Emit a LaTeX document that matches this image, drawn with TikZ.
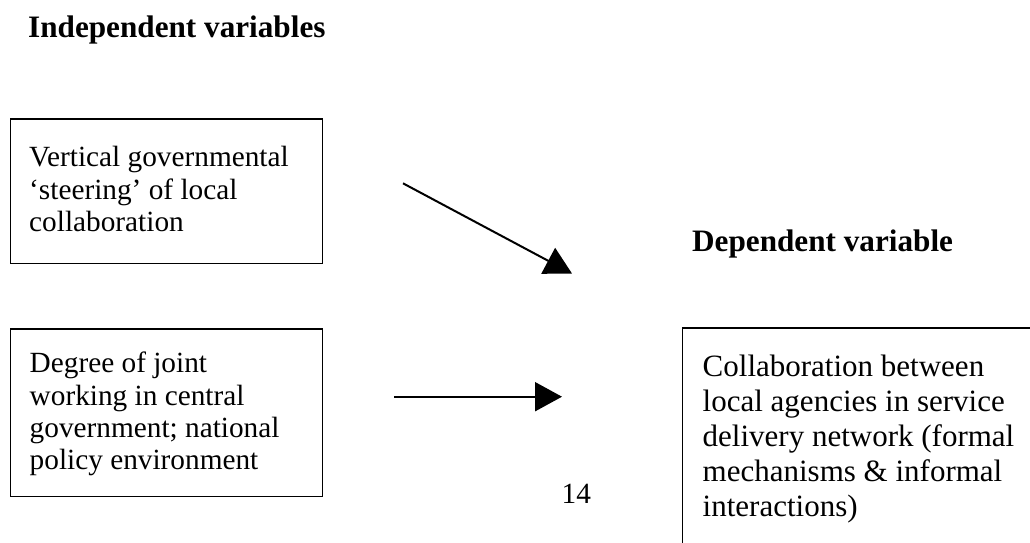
\documentclass[tikz,border=0pt]{standalone}
\usepackage{fontspec}
\setmainfont{Liberation Serif}
\usetikzlibrary{arrows.meta}
\begin{document}
\begin{tikzpicture}[x=1pt,y=-1pt,
  frame/.style={draw, line width=1.4pt, inner sep=0pt, anchor=north west},
  % multi-line texts are placed by the baseline of their last line
  body/.style={anchor=base west, align=left, inner sep=0pt,
    font=\fontsize{29.3}{32.4}\selectfont},
  bigbody/.style={anchor=base west, align=left, inner sep=0pt,
    font=\fontsize{31}{35}\selectfont},
  heading/.style={anchor=base west, inner sep=0pt,
    font=\fontsize{31.2}{35}\selectfont\bfseries},
  link/.style={line width=2pt, -{Triangle[length=27pt,width=29pt]}}
]
\useasboundingbox (0,0) rectangle (1030,542);
\clip (0,0) rectangle (1030,542);

% headings
\node[heading] (hind) at (28,37.7) {Independent variables};
\node[heading] (hdep) at (692,251.7) {Dependent variable};

% independent variable boxes
\node[frame, minimum width=312pt, minimum height=144.5pt] (box1) at (10,118.3) {};
\node[body] (txt1) at (29,231.7) {Vertical governmental\\‘steering’ of local\\collaboration};

\node[frame, minimum width=312pt, minimum height=167.7pt] (box2) at (10,328.3) {};
\node[body] (txt2) at (29.5,469.8) {Degree of joint\\working in central\\government; national\\policy environment};

% dependent variable box (runs past the page edge)
\node[frame, minimum width=420pt, minimum height=260pt] (box3) at (682,327.3) {};
\node[bigbody] (txt3) at (702.5,516.7) {Collaboration between\\local agencies in service\\delivery network (formal\\mechanisms \& informal\\interactions)};

% page number
\node[body] (pnum) at (561.5,503.3) {14};

% arrows
\coordinate (a1s) at (403,183.3);
\coordinate (a1e) at (572,273.5);
\coordinate (a2s) at (394,396.7);
\coordinate (a2e) at (562,396.7);
\draw[link] (a1s) -- (a1e);
\draw[link] (a2s) -- (a2e);
\end{tikzpicture}
\end{document}
